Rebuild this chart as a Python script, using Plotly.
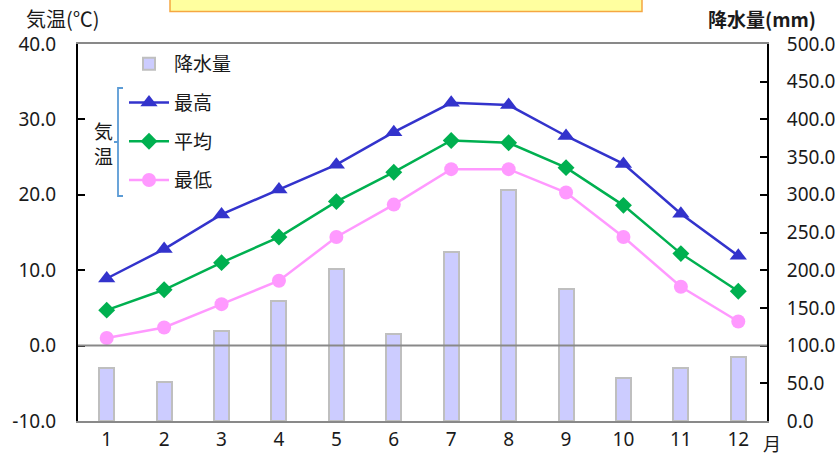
import plotly.graph_objects as go

months = [1, 2, 3, 4, 5, 6, 7, 8, 9, 10, 11, 12]
month_labels = ["1", "2", "3", "4", "5", "6", "7", "8", "9", "10", "11", "12"]
temp_max = [8.9, 12.8, 17.4, 20.7, 24.0, 28.3, 32.2, 31.9, 27.8, 24.1, 17.5, 11.9]
temp_mean = [4.7, 7.4, 11.0, 14.4, 19.1, 23.0, 27.2, 26.9, 23.6, 18.6, 12.2, 7.2]
temp_min = [1.0, 2.4, 5.5, 8.6, 14.4, 18.7, 23.4, 23.4, 20.3, 14.4, 7.8, 3.2]
precip = [70.0, 52.0, 120.0, 159.0, 202.0, 116.0, 224.0, 306.0, 175.0, 57.0, 70.0, 85.0]
temp_ticks = [-10, 0, 10, 20, 30, 40]
temp_tick_labels = ["-10.0", "0.0", "10.0", "20.0", "30.0", "40.0"]

names = ["降水量", "最高", "平均", "最低"]

W, H = 835, 457
L, R, T, B = 78, 767, 44, 421  # plot area in pixels


def px(x):
    return (x - L) / (R - L)


def py(y):
    return (B - y) / (B - T)


CJK = "Noto Sans CJK JP"
NUM = "Noto Sans"
TXT = "#1a1a1a"

fig = go.Figure()

fig.add_trace(go.Bar(
    x=months, y=precip, name=names[0], yaxis="y",
    width=0.26,
    marker=dict(color="#CCCCFF", line=dict(color="#BFBFBF", width=2)),
    legendgroup="g0",
))
fig.add_trace(go.Scatter(
    x=months, y=temp_max, name=names[1], yaxis="y2", mode="lines+markers",
    line=dict(color="#3333CC", width=2.5),
    marker=dict(symbol="triangle-up", size=15, color="#3333CC"),
    legendgroup="g1",
))
fig.add_trace(go.Scatter(
    x=months, y=temp_mean, name=names[2], yaxis="y2", mode="lines+markers",
    line=dict(color="#00B050", width=2.5),
    marker=dict(symbol="diamond", size=13, color="#00B050"),
    legendgroup="g2",
))
fig.add_trace(go.Scatter(
    x=months, y=temp_min, name=names[3], yaxis="y2", mode="lines+markers",
    line=dict(color="#FF99FF", width=2.5),
    marker=dict(symbol="circle", size=14, color="#FF99FF"),
    legendgroup="g3",
))

fig.update_layout(
    width=W, height=H, autosize=False,
    margin=dict(l=L, r=W - R, t=T, b=H - B, pad=0, autoexpand=False),
    paper_bgcolor="white", plot_bgcolor="white",
    font=dict(family=CJK, size=19, color=TXT),
    showlegend=True,
    legend=dict(
        x=px(124), y=py(45), xanchor="left", yanchor="top",
        bgcolor="rgba(0,0,0,0)", borderwidth=0,
        traceorder="grouped", tracegroupgap=11, itemwidth=40,
        font=dict(family=CJK, size=19, color=TXT),
    ),
    xaxis=dict(
        range=[0.5, 12.5], tickmode="array", tickvals=months,
        ticktext=month_labels, automargin=False,
        showline=True, linecolor="#898989", linewidth=2, mirror=True,
        ticks="", showgrid=False, zeroline=False,
        tickfont=dict(family=NUM, size=19, color=TXT),
    ),
    yaxis=dict(
        range=[0, 500], dtick=50, tickformat=".1f", side="right",
        automargin=False,
        showline=True, linecolor="black", linewidth=2,
        ticks="inside", ticklen=7, tickwidth=2, tickcolor="black",
        showgrid=False, zeroline=False, ticklabelstandoff=14,
        tickfont=dict(family=NUM, size=19, color=TXT),
    ),
    yaxis2=dict(
        range=[-10, 40], tickmode="array", tickvals=temp_ticks,
        ticktext=temp_tick_labels, side="left",
        overlaying="y", automargin=False,
        showline=True, linecolor="black", linewidth=2,
        ticks="inside", ticklen=7, tickwidth=2, tickcolor="black",
        showgrid=False, zeroline=False, ticklabelstandoff=16,
        tickfont=dict(family=NUM, size=19, color=TXT),
    ),
    bargap=0,
)

# zero line of temperature axis drawn over bars
fig.add_shape(type="line", xref="paper", yref="y2", x0=0, x1=1, y0=0, y1=0,
              line=dict(color="#898989", width=2), layer="above")

# bracket grouping the temperature legend items
fig.add_shape(
    type="path", xref="paper", yref="paper", layer="above",
    path=(f"M {px(123)} {py(88)} L {px(118)} {py(88)} L {px(118)} {py(196)} "
          f"L {px(123)} {py(196)} M {px(118)} {py(142)} L {px(114)} {py(142)}"),
    line=dict(color="#5B9BD5", width=1.8),
)

# yellow title box at top (cut off)
fig.add_shape(type="rect", xref="paper", yref="paper",
              x0=px(170), x1=px(642), y0=py(11.5), y1=py(-10),
              fillcolor="#FFFF9F", line=dict(color="#F5A742", width=1.5))

annotations = [
    dict(text="気<br>温", x=px(103), y=py(143), xanchor="center", yanchor="middle",
         font=dict(family=CJK, size=19, color=TXT)),
    dict(text="気温(℃)", x=px(24), y=py(18), xanchor="left", yanchor="middle",
         font=dict(family=CJK, size=20, color=TXT)),
    dict(text="<b>降水量(mm)</b>", x=px(818), y=py(18), xanchor="right", yanchor="middle",
         font=dict(family=CJK, size=19, color=TXT)),
    dict(text="月", x=px(772), y=py(443), xanchor="center", yanchor="middle",
         font=dict(family=CJK, size=18, color=TXT)),
]
for a in annotations:
    fig.add_annotation(xref="paper", yref="paper", showarrow=False, **a)

fig.write_html(
    "out.html",
    config={"displayModeBar": False},
    post_script="document.body.style.margin='0';document.body.style.overflow='hidden';",
)
